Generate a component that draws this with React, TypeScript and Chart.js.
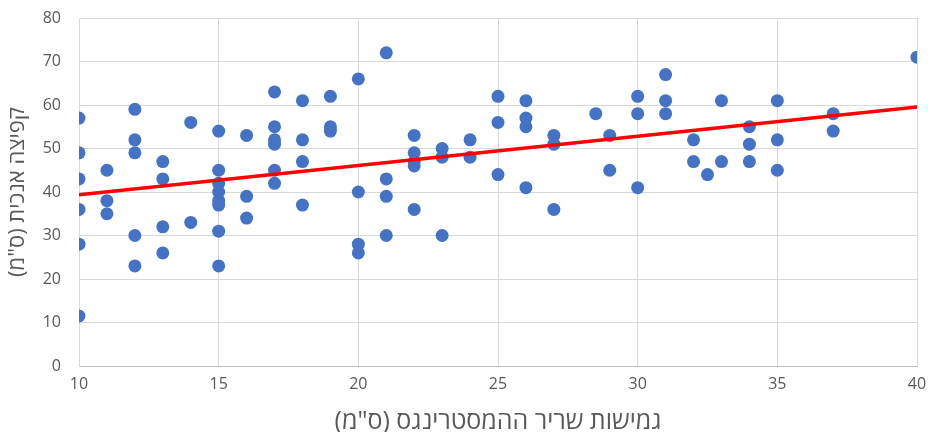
import React, { useEffect, useRef } from "react";
import { Chart, registerables } from "chart.js";

Chart.register(...registerables);

// Hamstring flexibility (cm) for each subject
const hamstring = [
  10, 10, 10, 10, 10, 10,
  11, 11, 11,
  12, 12, 12, 12, 12,
  13, 13, 13, 13,
  14, 14,
  15, 15, 15, 15, 15, 15, 15, 15,
  16, 16, 16,
  17, 17, 17, 17, 17, 17,
  18, 18, 18, 18,
  19, 19, 19,
  20, 20, 20, 20,
  21, 21, 21, 21,
  22, 22, 22, 22, 22,
  23, 23, 23,
  24, 24,
  25, 25, 25,
  26, 26, 26, 26,
  27, 27, 27,
  28.5,
  29, 29,
  30, 30, 30,
  31, 31, 31,
  32, 32,
  32.5,
  33, 33,
  34, 34, 34,
  35, 35, 35,
  37, 37,
  40,
];

// Vertical jump (cm) for each subject
const jump = [
  57, 49, 43, 36, 28, 11.5,
  45, 38, 35,
  59, 52, 49, 30, 23,
  47, 43, 32, 26,
  56, 33,
  54, 45, 42, 40, 38, 37, 31, 23,
  53, 39, 34,
  63, 55, 52, 51, 45, 42,
  61, 52, 47, 37,
  62, 55, 54,
  66, 40, 28, 26,
  72, 43, 39, 30,
  53, 49, 47, 46, 36,
  50, 48, 30,
  52, 48,
  62, 56, 44,
  61, 57, 55, 41,
  53, 51, 36,
  58,
  53, 45,
  62, 58, 41,
  67, 61, 58,
  52, 47,
  44,
  61, 47,
  55, 51, 47,
  61, 52, 45,
  58, 54,
  71,
];

const xTicks = [10, 15, 20, 25, 30, 35, 40];
const yTicks = [0, 10, 20, 30, 40, 50, 60, 70, 80];

const xTitle = 'גמישות שריר ההמסטרינגס (ס"מ)';
const yTitle = 'קפיצה אנכית (ס"מ)';

function linearFit(xs: number[], ys: number[]) {
  const n = xs.length;
  let sx = 0, sy = 0, sxx = 0, sxy = 0;
  for (let i = 0; i < n; i++) {
    sx += xs[i];
    sy += ys[i];
    sxx += xs[i] * xs[i];
    sxy += xs[i] * ys[i];
  }
  const slope = (n * sxy - sx * sy) / (n * sxx - sx * sx);
  const intercept = (sy - slope * sx) / n;
  return { slope, intercept };
}

const FONT = "'Open Sans', 'DejaVu Sans', sans-serif";
const TEXT = "#595959";

export default function App() {
  const canvasRef = useRef<HTMLCanvasElement | null>(null);

  useEffect(() => {
    if (!canvasRef.current) return;
    const points = hamstring.map((x, i) => ({ x, y: jump[i] }));
    const fit = linearFit(hamstring, jump);
    const xMin = xTicks[0];
    const xMax = xTicks[xTicks.length - 1];
    const trend = [
      { x: xMin, y: fit.intercept + fit.slope * xMin },
      { x: xMax, y: fit.intercept + fit.slope * xMax },
    ];

    const chart = new Chart(canvasRef.current, {
      type: "scatter",
      data: {
        datasets: [
          {
            type: "line",
            data: trend,
            borderColor: "#FF0000",
            borderWidth: 3.5,
            pointRadius: 0,
            showLine: true,
            fill: false,
            order: 0,
          } as any,
          {
            data: points,
            backgroundColor: "#4472C4",
            borderWidth: 0,
            pointRadius: 6.5,
            pointHoverRadius: 6.5,
            order: 1,
          },
        ],
      },
      options: {
        animation: false,
        responsive: false,
        maintainAspectRatio: false,
        layout: { padding: { top: 18, right: 11, bottom: 0, left: 0 } },
        plugins: {
          legend: { display: false },
          tooltip: { enabled: false },
        },
        scales: {
          x: {
            type: "linear",
            min: xMin,
            max: xMax,
            afterBuildTicks: (scale: any) => {
              scale.ticks = xTicks.map((v) => ({ value: v }));
            },
            afterFit: (scale: any) => {
              scale.height = 66;
              scale.paddingLeft = 0;
              scale.paddingRight = 0;
            },
            grid: { color: "#d9d9d9", lineWidth: 1, drawTicks: false },
            border: { display: true, color: "#bfbfbf", width: 1 },
            ticks: {
              color: TEXT,
              font: { family: FONT, size: 16 },
              padding: 9,
              maxRotation: 0,
            },
            title: {
              display: true,
              text: xTitle,
              color: TEXT,
              font: { family: FONT, size: 25 },
              padding: { top: 0, bottom: -5 },
            },
          },
          y: {
            type: "linear",
            min: yTicks[0],
            max: yTicks[yTicks.length - 1],
            afterBuildTicks: (scale: any) => {
              scale.ticks = yTicks.map((v) => ({ value: v }));
            },
            afterFit: (scale: any) => {
              scale.width = 79;
              scale.paddingTop = 0;
              scale.paddingBottom = 0;
            },
            grid: { color: "#d9d9d9", lineWidth: 1, drawTicks: false },
            border: { display: true, color: "#d9d9d9", width: 1 },
            ticks: {
              color: TEXT,
              font: { family: FONT, size: 16 },
              padding: 18,
            },
            title: {
              display: true,
              text: yTitle,
              color: TEXT,
              font: { family: FONT, size: 22 },
              padding: { top: 5, bottom: 0 },
            },
          },
        },
      },
    });
    return () => chart.destroy();
  }, []);

  return (
    <div style={{ position: "fixed", left: 0, top: 0, width: 928, height: 432, background: "#fff" }}>
      <canvas ref={canvasRef} width={928} height={432} dir="rtl" style={{ width: 928, height: 432, display: "block" }} />
    </div>
  );
}
